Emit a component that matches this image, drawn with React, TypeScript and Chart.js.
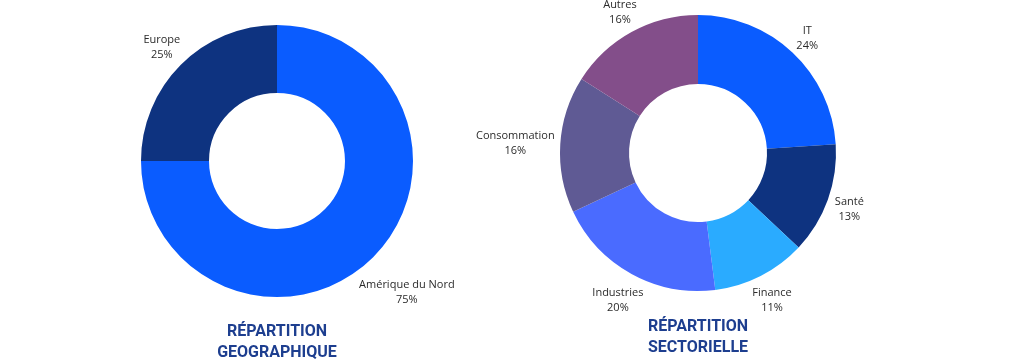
import React, { useEffect, useRef } from "react";
import { Chart, registerables } from "chart.js";

Chart.register(...registerables);

// ---- Data ----
const geoLabels = ["Amérique du Nord", "Europe"];
const geoValues = [75, 25];
const geoColors = ["#0A5CFF", "#0E3380"];
const geoTitle = ["RÉPARTITION", "GEOGRAPHIQUE"];

const sectorLabels = ["IT", "Santé", "Finance", "Industries", "Consommation", "Autres"];
const sectorValues = [24, 13, 11, 20, 16, 16];
const sectorColors = ["#0A5CFF", "#0E3380", "#2AABFF", "#4A6BFF", "#5F5A94", "#834E8A"];
const sectorTitle = ["RÉPARTITION", "SECTORIELLE"];

const TITLE_COLOR = "#1D3E8F";
const LABEL_COLOR = "#2B2B2B";

const outsideLabels = {
  id: "outsideLabels",
  afterDatasetsDraw(chart: any) {
    const ctx = chart.ctx;
    const meta = chart.getDatasetMeta(0);
    const data = chart.data.datasets[0].data as number[];
    const total = data.reduce((a, b) => a + b, 0);
    ctx.save();
    ctx.font = "11px 'Open Sans'";
    ctx.fillStyle = LABEL_COLOR;
    ctx.textAlign = "center";
    ctx.textBaseline = "middle";
    meta.data.forEach((arc: any, i: number) => {
      const p = arc.getProps(["x", "y", "startAngle", "endAngle", "outerRadius"], true);
      const mid = (p.startAngle + p.endAngle) / 2;
      const dx = Math.cos(mid);
      const dy = Math.sin(mid);
      const l1 = String(chart.data.labels[i]);
      const l2 = Math.round((data[i] / total) * 100) + "%";
      const halfW = Math.max(ctx.measureText(l1).width, ctx.measureText(l2).width) / 2;
      const halfH = 12.5;
      const d = p.outerRadius + 5 + halfW * Math.abs(dx) + halfH * Math.abs(dy);
      const cx = p.x + dx * d;
      const cy = p.y + dy * d + 1.75;
      ctx.fillText(l1, cx, cy - 7.5);
      ctx.fillText(l2, cx, cy + 7.5);
    });
    ctx.restore();
  },
};

function Donut(props: {
  labels: string[];
  values: number[];
  colors: string[];
  title: string[];
  width: number;
  padTop: number;
  padBottom: number;
  titlePadTop: number;
  style: React.CSSProperties;
}) {
  const ref = useRef<HTMLCanvasElement | null>(null);
  useEffect(() => {
    if (!ref.current) return;
    const chart = new Chart(ref.current, {
      type: "doughnut",
      data: {
        labels: props.labels,
        datasets: [
          {
            data: props.values,
            backgroundColor: props.colors,
            borderWidth: 0,
          },
        ],
      },
      options: {
        responsive: false,
        animation: false,
        devicePixelRatio: 1,
        events: [],
        cutout: "50%",
        layout: { padding: { top: props.padTop, bottom: props.padBottom, left: 0, right: 0 } },
        plugins: {
          legend: { display: false },
          tooltip: { enabled: false },
          title: {
            display: true,
            position: "bottom",
            text: props.title,
            color: TITLE_COLOR,
            font: { family: "Roboto", size: 16, weight: "bold", lineHeight: 1.3125 },
            padding: { top: props.titlePadTop, bottom: 0 },
          },
        },
      },
      plugins: [outsideLabels],
    } as any);
    return () => chart.destroy();
  }, []);
  return <canvas ref={ref} width={props.width} height={363} style={props.style} />;
}

export default function App() {
  return (
    <div
      style={{
        position: "fixed",
        left: 0,
        top: 0,
        width: 1024,
        height: 363,
        background: "#ffffff",
        overflow: "hidden",
      }}
    >
      <Donut
        labels={geoLabels}
        values={geoValues}
        colors={geoColors}
        title={geoTitle}
        width={400}
        padTop={25}
        padBottom={0}
        titlePadTop={24}
        style={{ position: "absolute", left: 77, top: 0, width: 400, height: 363 }}
      />
      <Donut
        labels={sectorLabels}
        values={sectorValues}
        colors={sectorColors}
        title={sectorTitle}
        width={500}
        padTop={15}
        padBottom={4.5}
        titlePadTop={25.5}
        style={{ position: "absolute", left: 448, top: 0, width: 500, height: 363 }}
      />
    </div>
  );
}
